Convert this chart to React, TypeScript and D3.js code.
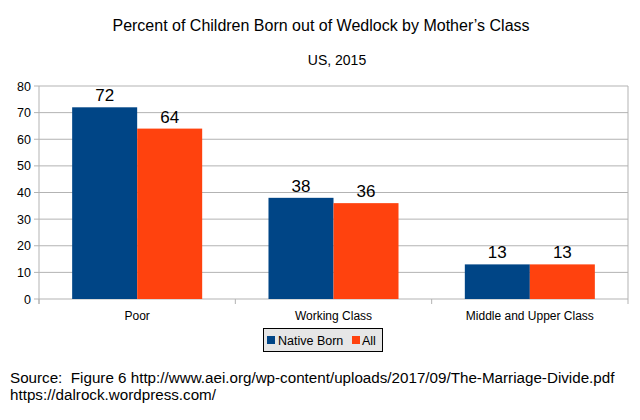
import React from "react";
import * as d3 from "d3";

const categories = ["Poor", "Working Class", "Middle and Upper Class"];
const seriesNames = ["Native Born", "All"];
const nativeBorn = [72, 38, 13];
const allMothers = [64, 36, 13];
const yTicks = [0, 10, 20, 30, 40, 50, 60, 70, 80];
const colors = ["#004586", "#ff420e"];

export default function App() {
  const W = 640, H = 420;
  const left = 39, right = 628, top = 86, bottom = 299;
  const x = d3.scaleBand<string>().domain(categories).range([left, right]).padding(0);
  const y = d3.scaleLinear().domain([0, 80]).range([bottom, top]);
  const inner = d3.scaleBand<string>().domain(seriesNames).range([0, x.bandwidth()]).paddingInner(0).paddingOuter(0.51);
  const values = [nativeBorn, allMothers];
  const font = "'Liberation Sans', Arial, sans-serif";
  const boundaries = [...categories.map((c) => x(c)!), right];
  return (
    <svg width={W} height={H} style={{ position: "absolute", left: 0, top: 0, background: "#fff" }} fontFamily={font}>
      <rect width={W} height={H} fill="#fff" />
      <text x={321} y={31} textAnchor="middle" fontSize={16} fill="#000">Percent of Children Born out of Wedlock by Mother’s Class</text>
      <text x={337} y={65} textAnchor="middle" fontSize={14} fill="#000">US, 2015</text>
      {yTicks.map((t) => (
        <g key={t}>
          <line x1={left - 5} x2={right} y1={y(t)} y2={y(t)} stroke="#b3b3b3" strokeWidth={1} />
          <text x={left - 8} y={y(t) + 4.5} textAnchor="end" fontSize={12.5} fill="#000">{t}</text>
        </g>
      ))}
      <line x1={left} x2={left} y1={top} y2={bottom + 5} stroke="#b3b3b3" />
      <line x1={right} x2={right} y1={top} y2={bottom} stroke="#b3b3b3" />
      {boundaries.map((b, i) => (
        <line key={i} x1={b} x2={b} y1={bottom} y2={bottom + 5} stroke="#b3b3b3" />
      ))}
      {categories.map((c, ci) => (
        <g key={c}>
          {values.map((vals, si) => {
            const bx = x(c)! + inner(seriesNames[si])!;
            const bw = inner.bandwidth();
            return (
              <g key={si}>
                <rect x={bx} y={y(vals[ci])} width={bw} height={bottom - y(vals[ci])} fill={colors[si]} />
                <text x={bx + bw / 2} y={y(vals[ci]) - 6} textAnchor="middle" fontSize={17} fill="#000">{vals[ci]}</text>
              </g>
            );
          })}
          <text x={x(c)! + x.bandwidth() / 2} y={320} textAnchor="middle" fontSize={12} fill="#000">{c}</text>
        </g>
      ))}
      <g>
        <rect x={263.5} y={328.5} width={119} height={23} fill="#e6e6e6" stroke="#000" />
        <rect x={267} y={336} width={8} height={8} fill={colors[0]} />
        <text x={278} y={344.5} fontSize={12.5} fill="#000">Native Born</text>
        <rect x={352} y={336} width={8} height={8} fill={colors[1]} />
        <text x={362} y={344.5} fontSize={12.5} fill="#000">All</text>
      </g>
      <text x={10} y={383} fontSize={15.2} fill="#000">{"Source:\u00a0 Figure 6 http://www.aei.org/wp-content/uploads/2017/09/The-Marriage-Divide.pdf"}</text>
      <text x={10} y={400} fontSize={15.2} fill="#000">https://dalrock.wordpress.com/</text>
    </svg>
  );
}
